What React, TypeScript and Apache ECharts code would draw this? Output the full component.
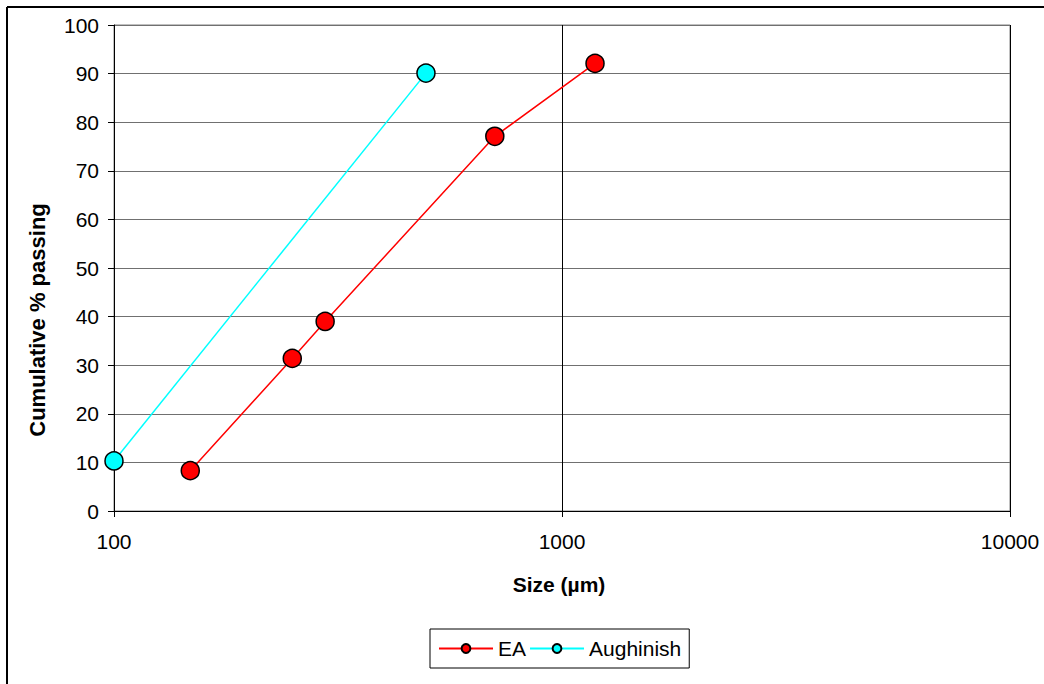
import React, { useEffect, useRef } from "react";
import * as echarts from "echarts";

const eaSizes = [148, 250, 296, 708, 1185];
const eaPassing = [8.3, 31.4, 39.0, 77.1, 92.1];
const aughSizes = [100, 497];
const aughPassing = [10.3, 90.1];
const xTicks = [100, 1000, 10000];
const seriesNames = ["EA", "Aughinish"];

const FONT = "'Liberation Sans', Arial, sans-serif";

export default function App() {
  const ref = useRef<HTMLDivElement>(null);
  useEffect(() => {
    if (!ref.current) return;
    const chart = echarts.init(ref.current, undefined, { renderer: "svg" });
    const ea = eaSizes.map((s, i) => [s, eaPassing[i]]);
    const au = aughSizes.map((s, i) => [s, aughPassing[i]]);
    chart.setOption({
      animation: false,
      backgroundColor: "#fff",
      textStyle: { fontFamily: FONT },
      grid: {
        left: 114,
        top: 25,
        right: 34,
        bottom: 173,
        show: true,
        borderColor: "#808080",
        borderWidth: 1,
      },
      xAxis: {
        type: "log",
        logBase: 10,
        min: xTicks[0],
        max: xTicks[xTicks.length - 1],
        axisLine: { lineStyle: { color: "#000", width: 1 } },
        axisTick: { show: true, length: 6, lineStyle: { color: "#000" } },
        axisLabel: {
          color: "#000",
          fontSize: 21,
          fontFamily: FONT,
          margin: 20,
          formatter: (v: number) => String(Math.round(v)),
        },
        splitLine: { show: true, lineStyle: { color: "#000", width: 1 } },
        minorTick: { show: false },
        minorSplitLine: { show: false },
      },
      yAxis: {
        type: "value",
        min: 0,
        max: 100,
        interval: 10,
        axisLine: { show: true, lineStyle: { color: "#000", width: 1 } },
        axisTick: { show: true, length: 6, lineStyle: { color: "#000" } },
        axisLabel: { color: "#000", fontSize: 21, fontFamily: FONT, margin: 15 },
        splitLine: { show: true, lineStyle: { color: "#707070", width: 1 } },
      },
      legend: {
        left: 430,
        top: 629,
        data: seriesNames,
        orient: "horizontal",
        borderColor: "#000",
        borderWidth: 1,
        padding: [9, 8, 9, 8],
        itemWidth: 54,
        itemHeight: 11,
        itemGap: 3,
        textStyle: { color: "#000", fontSize: 21, fontFamily: FONT },
      },
      series: [
        {
          name: seriesNames[0],
          type: "line",
          data: ea,
          symbol: "circle",
          symbolSize: 18,
          itemStyle: { color: "#ff0000", borderColor: "#000", borderWidth: 1.5 },
          lineStyle: { color: "#ff0000", width: 1.5 },
          z: 3,
        },
        {
          name: seriesNames[1],
          type: "line",
          data: au,
          symbol: "circle",
          symbolSize: 18,
          itemStyle: { color: "#00ffff", borderColor: "#000", borderWidth: 1.5 },
          lineStyle: { color: "#00ffff", width: 1.5 },
          z: 3,
        },
      ],
      graphic: [
        {
          type: "line",
          shape: { x1: 7, y1: 7, x2: 1044, y2: 7 },
          style: { stroke: "#000", lineWidth: 2 },
        },
        {
          type: "line",
          shape: { x1: 7, y1: 7, x2: 7, y2: 684 },
          style: { stroke: "#000", lineWidth: 2 },
        },
        {
          type: "text",
          x: 37,
          y: 320,
          rotation: Math.PI / 2,
          style: {
            text: "Cumulative % passing",
            fill: "#000",
            font: `bold 22px ${FONT}`,
            align: "center",
            verticalAlign: "middle",
          },
        },
        {
          type: "text",
          x: 559,
          y: 584,
          style: {
            text: "Size (µm)",
            fill: "#000",
            font: `bold 21px ${FONT}`,
            align: "center",
            verticalAlign: "middle",
          },
        },
      ],
    });
    return () => chart.dispose();
  }, []);
  return (
    <div
      ref={ref}
      style={{ position: "fixed", left: 0, top: 0, width: 1044, height: 684 }}
    />
  );
}
